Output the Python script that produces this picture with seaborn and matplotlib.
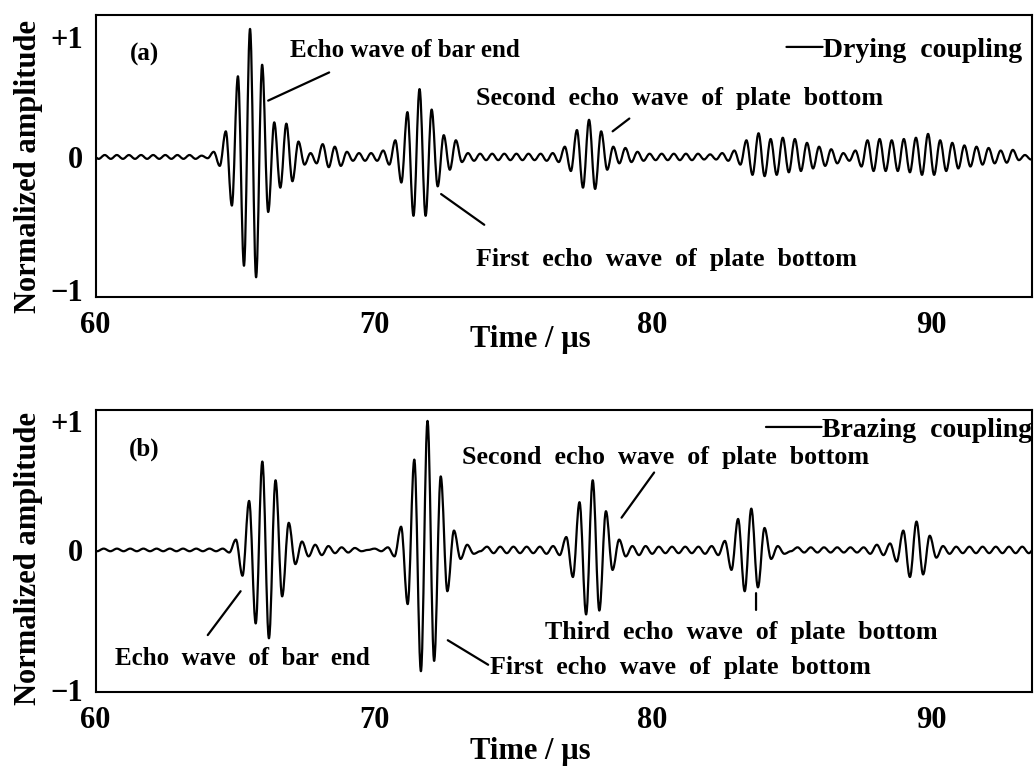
import numpy as np
import pandas as pd
import matplotlib
matplotlib.use("Agg")
import matplotlib.pyplot as plt
from matplotlib.path import Path
from matplotlib.patheffects import AbstractPathEffect
import seaborn as sns


# A-scan records, one value per half period (successive peaks / troughs)
DRY_T0 = 59.896      # µs, first sample
DRY_STEP = 0.2174    # µs between successive extrema
DRY_AMP = [
    0.015, -0.015, 0.015, -0.015, 0.015, -0.015, 0.015, -0.015, 0.015, -0.015,
    0.015, -0.015, 0.015, -0.015, 0.015, -0.015, 0.015, -0.015, 0.01,
    -0.01, 0.04, -0.07, 0.20, -0.38, 0.63, -0.85, 1.0, -0.94, 0.72, -0.43, 0.27,
    -0.24, 0.26, -0.19, 0.12, -0.06, 0.03, -0.05, 0.10, -0.08, 0.08, -0.07, 0.04, -0.03,
    0.03, -0.03, 0.03, -0.03, 0.05,
    -0.06, 0.13, -0.20, 0.35, -0.46, 0.53, -0.46, 0.37, -0.23, 0.17, -0.10, 0.13, -0.04,
    0.03, -0.03, 0.025, -0.025, 0.025, -0.025, 0.025, -0.025, 0.025, -0.025, 0.025,
    -0.025, 0.025, -0.03, 0.03, -0.04,
    0.08, -0.11, 0.21, -0.24, 0.29, -0.25, 0.20, -0.10, 0.08, -0.05, 0.07, -0.04, 0.04,
    -0.03, 0.025, -0.025, 0.025, -0.025, 0.025, -0.025, 0.025, -0.025, 0.025, -0.02,
    0.02, -0.02, 0.03, -0.03,
    0.05, -0.06, 0.13, -0.14, 0.185, -0.15, 0.14, -0.14, 0.15, -0.12, 0.14, -0.11,
    0.11, -0.09, 0.08, -0.07, 0.06, -0.05, 0.03, -0.03, 0.05, -0.075, 0.13, -0.11,
    0.14, -0.11, 0.13, -0.11, 0.14, -0.12, 0.15, -0.14, 0.18, -0.14, 0.13, -0.11,
    0.11, -0.09, 0.09, -0.075, 0.08, -0.06, 0.07, -0.05, 0.05, -0.045, 0.055, -0.025,
    0.015, -0.02, 0.02,
]

BRAZE_T0 = 59.82
BRAZE_STEP = 0.2373
BRAZE_AMP = [
    0.01, -0.01, 0.01, -0.01, 0.01, -0.01, 0.01, -0.01, 0.01, -0.01, 0.01,
    -0.01, 0.01, -0.01, 0.01, -0.01, 0.01, -0.01, 0.01, -0.01, 0.01,
    -0.02, 0.08, -0.20, 0.38, -0.57, 0.685, -0.685, 0.54, -0.36, 0.21, -0.11, 0.065,
    -0.05, 0.04, -0.04, 0.03, -0.025, 0.02,
    -0.02, 0.015, -0.01, 0.0, 0.01, -0.01, 0.02,
    -0.05, 0.18, -0.42, 0.70, -0.94, 1.0, -0.86, 0.57, -0.32, 0.15, -0.07, 0.04, -0.03,
    -0.01, 0.025, -0.025, 0.025, -0.025, 0.025, -0.025, 0.025, -0.025, 0.025, -0.03, 0.03,
    -0.04, 0.10, -0.21, 0.37, -0.50, 0.54, -0.47, 0.30, -0.155, 0.08, -0.05, 0.03, -0.04,
    0.03, -0.03, 0.025, -0.025, 0.025, -0.025, 0.025, -0.025, 0.025, -0.03,
    0.03, -0.04, 0.07, -0.155, 0.24, -0.32, 0.32, -0.29, 0.17, -0.07, 0.03, -0.03,
    -0.01, 0.02, -0.02, 0.02, -0.02, 0.02, -0.02, 0.02, -0.02, 0.02, -0.02, 0.02,
    -0.03, 0.04, -0.04, 0.05,
    -0.09, 0.15, -0.21, 0.22, -0.19, 0.11, -0.06, 0.03, -0.03,
    0.025, -0.025, 0.025, -0.025, 0.025, -0.025, 0.025, -0.025, 0.025, -0.025, 0.025,
    -0.025, 0.025,
]

X_TICKS = [60, 70, 80, 90]
Y_TICK_LABELS = ["\u22121", "0", "+1"]
SERIES = ["Drying  coupling", "Brazing  coupling"]
PANELS = ["(a)", "(b)"]

FONT = "Liberation Serif"


class SmoothWave(AbstractPathEffect):
    """Draw a polyline through extrema as arcs with flat tangents at every vertex."""

    def __init__(self, handle=0.363):
        super().__init__()
        self.handle = handle

    def draw_path(self, renderer, gc, tpath, affine, rgbFace=None):
        v = np.asarray(tpath.vertices, dtype=float)
        if len(v) < 3:
            renderer.draw_path(gc, tpath, affine, rgbFace)
            return
        verts = [tuple(v[0])]
        for (x0, y0), (x1, y1) in zip(v[:-1], v[1:]):
            d = (x1 - x0) * self.handle
            verts += [(x0 + d, y0), (x1 - d, y1), (x1, y1)]
        codes = [Path.MOVETO] + [Path.CURVE4] * (3 * (len(v) - 1))
        renderer.draw_path(gc, Path(verts, codes), affine, rgbFace)


def record(t0, step, amp):
    t = t0 + step * np.arange(len(amp))
    return pd.DataFrame({"time": t, "amplitude": amp})


def note(ax, text, text_xy, p0, p1, size=18.7, wide=True):
    ax.annotate("", xy=p0, xytext=p1,
                arrowprops=dict(arrowstyle="-", lw=1.6, color="black", shrinkA=0, shrinkB=0))
    label = text.replace(" ", "  ") if wide else text
    ax.text(text_xy[0], text_xy[1], label, fontsize=size,
            fontweight="bold", ha="left", va="center")


def style_axes(ax, yticks, ylim, xlabel_y, ylabel_y):
    ax.set_xlim(60, 93.63)
    ax.set_ylim(*ylim)
    ax.set_xticks(X_TICKS)
    ax.set_xticklabels([str(v) for v in X_TICKS], fontsize=22, fontweight="bold")
    ax.set_yticks(yticks)
    ax.set_yticklabels(Y_TICK_LABELS, fontsize=22, fontweight="bold")
    ax.tick_params(axis="both", length=0)
    ax.tick_params(axis="x", pad=10)
    ax.tick_params(axis="y", pad=9)
    ax.set_xlabel("Time / \u00b5s", fontsize=22, fontweight="bold")
    ax.set_ylabel("Normalized amplitude", fontsize=22, fontweight="bold")
    ax.xaxis.set_label_coords(0.464, xlabel_y)
    ax.yaxis.set_label_coords(-0.0565, ylabel_y)
    ax.grid(False)
    for sp in ax.spines.values():
        sp.set_visible(True)
        sp.set_linewidth(1.5)
        sp.set_color("black")


def main() -> None:
    sns.set_theme(style="white")
    plt.rcParams["font.family"] = [FONT, "DejaVu Serif"]
    plt.rcParams.update({
        "text.color": "black",
        "axes.labelcolor": "black",
        "xtick.color": "black",
        "ytick.color": "black",
    })

    fig = plt.figure(figsize=(10.35, 7.71), dpi=100)
    ax_a = fig.add_axes([0.0923, 0.6148, 0.9048, 0.3658])
    ax_b = fig.add_axes([0.0923, 0.1025, 0.9048, 0.3658])

    dry = record(DRY_T0, DRY_STEP, DRY_AMP)
    braze = record(BRAZE_T0, BRAZE_STEP, BRAZE_AMP)

    for ax, df, name in [(ax_a, dry, SERIES[0]), (ax_b, braze, SERIES[1])]:
        sns.lineplot(data=df, x="time", y="amplitude", ax=ax, color="black",
                     linewidth=1.6, estimator=None, sort=False, label=name)
        for ln in ax.get_lines():
            ln.set_path_effects([SmoothWave()])
            ln.set_solid_joinstyle("round")

    style_axes(ax_a, [-1.04, 0, 0.94], (-1.094, 1.109), -0.10, 0.461)
    style_axes(ax_b, [-1.085, 0, 1.0], (-1.101, 1.085), -0.16, 0.475)

    prop = {"family": FONT, "weight": "bold", "size": 20}
    ax_a.legend(loc="center right", bbox_to_anchor=(0.989, 0.876), frameon=False,
                handlelength=1.3, handletextpad=0.0, borderpad=0, borderaxespad=0, prop=prop)
    ax_b.legend(loc="center right", bbox_to_anchor=(0.9995, 0.929), frameon=False,
                handlelength=2.0, handletextpad=0.0, borderpad=0, borderaxespad=0, prop=prop)

    for ax, tag in [(ax_a, PANELS[0]), (ax_b, PANELS[1])]:
        ax.text(0.052, 0.86, tag, transform=ax.transAxes, fontsize=18,
                fontweight="bold", ha="center", va="center")

    # panel (a) call-outs
    note(ax_a, "Echo wave of bar end", (66.98, 0.83), (66.20, 0.44), (68.39, 0.66),
         size=18, wide=False)
    note(ax_a, "Second echo wave of plate bottom", (73.66, 0.46), (78.57, 0.20), (79.17, 0.30))
    note(ax_a, "First echo wave of plate bottom", (73.66, -0.80), (72.41, -0.29), (73.96, -0.53))

    # panel (b) call-outs
    note(ax_b, "Second echo wave of plate bottom", (73.16, 0.713), (78.89, 0.25), (80.06, 0.60))
    note(ax_b, "Echo wave of bar end", (60.70, -0.845), (64.03, -0.66), (65.21, -0.32), size=18)
    note(ax_b, "Third echo wave of plate bottom", (76.14, -0.64), (83.72, -0.335), (83.72, -0.465))
    note(ax_b, "First echo wave of plate bottom", (74.17, -0.91), (72.65, -0.70), (74.10, -0.89))

    fig.savefig("out.png", dpi=100)
    plt.close(fig)


if __name__ == "__main__":
    main()
